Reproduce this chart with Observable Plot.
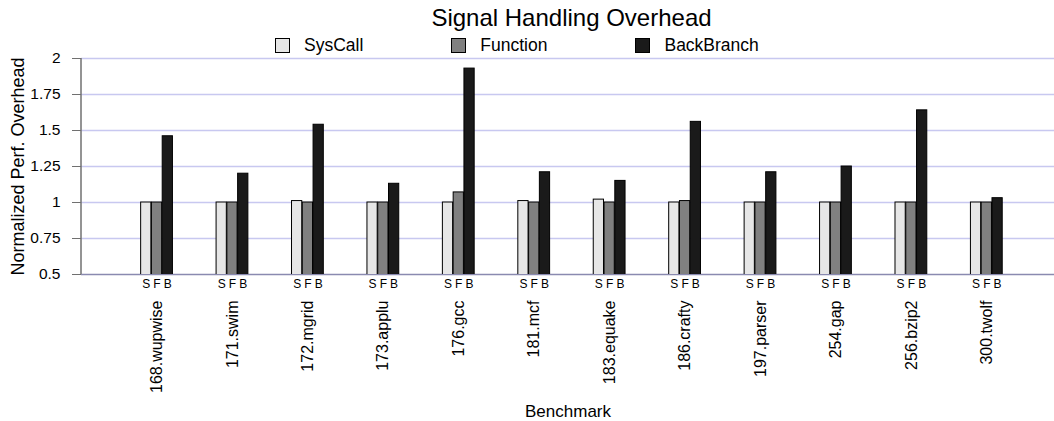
<!DOCTYPE html>
<html>
<head>
<meta charset="utf-8">
<script src="https://cdn.jsdelivr.net/npm/d3@7"></script>
<script src="https://cdn.jsdelivr.net/npm/@observablehq/plot@0.6"></script>
<style>
  html, body { margin: 0; padding: 0; background: #fff; }
  body { font-family: "Liberation Sans", Arial, Helvetica, sans-serif; color: #000; width: 1054px; height: 421px; overflow: hidden; }
  #title { height: 30px; line-height: 30px; padding-top: 3px; font-size: 24px; text-align: center; padding-left: 89px; box-sizing: content-box; width: 965px; }
  #legend { height: 20px; line-height: 20px; padding-top: 2px; font-size: 17.5px; display: flex; padding-left: 275px; }
  .item { display: flex; align-items: center; margin-right: 88px; }
  .sw { width: 13px; height: 13px; border: 1px solid #000; margin-right: 14px; }
  #chart svg { overflow: visible; display: block; }
</style>
</head>
<body>
<div id="title">Signal Handling Overhead</div>
<div id="legend"></div>
<div id="chart"></div>
<script>
const benchmarks = ["168.wupwise","171.swim","172.mgrid","173.applu","176.gcc","181.mcf","183.equake","186.crafty","197.parser","254.gap","256.bzip2","300.twolf"];
const seriesNames = ["SysCall","Function","BackBranch"];
const seriesCodes = ["S","F","B"];
const seriesColors = ["#e6e6e6","#808080","#1a1a1a"];
const sysCall    = [1.00,1.00,1.01,1.00,1.00,1.01,1.02,1.00,1.00,1.00,1.00,1.00];
const functionV  = [1.00,1.00,1.00,1.00,1.07,1.00,1.00,1.01,1.00,1.00,1.00,1.00];
const backBranch = [1.46,1.20,1.54,1.13,1.93,1.21,1.15,1.56,1.21,1.25,1.64,1.03];
const yTicks = [0.5,0.75,1,1.25,1.5,1.75,2];
const yTickLabels = ["0.5","0.75","1","1.25","1.5","1.75","2"];
const xTitle = "Benchmark";
const yTitle = "Normalized Perf. Overhead";

const seriesValues = [sysCall, functionV, backBranch];
const data = [];
benchmarks.forEach((b, i) => {
  seriesNames.forEach((s, j) => {
    data.push({bench: b, series: s, code: seriesCodes[j], key: b + "|" + seriesCodes[j], value: seriesValues[j][i]});
  });
});
const xDomain = benchmarks.flatMap(b => [...seriesCodes.map(c => b + "|" + c), b + "|_1", b + "|_2", b + "|_3", b + "|_4"]);
const labelData = benchmarks.map(b => ({bench: b, key: b + "|F"}));

// legend
const legend = document.getElementById("legend");
seriesNames.forEach((s, j) => {
  const it = document.createElement("div"); it.className = "item";
  const sw = document.createElement("div"); sw.className = "sw"; sw.style.background = seriesColors[j];
  const tx = document.createElement("span"); tx.textContent = s;
  it.appendChild(sw); it.appendChild(tx); legend.appendChild(it);
});

const chart = Plot.plot({
  width: 1054,
  height: 366,
  marginLeft: 81,
  marginRight: 0,
  marginTop: 3,
  marginBottom: 147,
  style: {fontFamily: '"Liberation Sans", Arial, Helvetica, sans-serif', background: "white", overflow: "visible"},
  x: {domain: xDomain, type: "band", paddingInner: 0.05, paddingOuter: 3.17, align: 0.873},
  y: {domain: [0.5, 2]},
  color: {domain: seriesNames, range: seriesColors},
  marks: [
    Plot.ruleY(yTicks.slice(1), {stroke: "#c8c8f0", strokeWidth: 1.5}),
    Plot.ruleY([yTicks[0]], {stroke: "#8a8ab0", strokeWidth: 1.5}),
    Plot.barY(data, {x: "key", y: "value", fill: "series", stroke: "#000", strokeWidth: 1, clip: true}),
    Plot.axisY({ticks: yTicks, tickFormat: (d) => yTickLabels[yTicks.indexOf(d)], tickSize: 9, tickPadding: 12, fontSize: 15.5, stroke: "#707070", label: null}),
    Plot.axisX({tickSize: 0, tickPadding: 5, fontSize: 12, tickFormat: k => { const c = k.split("|")[1]; return seriesCodes.includes(c) ? c : ""; }, label: null}),
    Plot.text(labelData, {x: "key", text: "bench", frameAnchor: "bottom", dy: 26, rotate: -90, textAnchor: "end", lineAnchor: "middle", fontSize: 16}),
    Plot.text([xTitle], {text: d => d, frameAnchor: "bottom", dy: 137, fontSize: 17, textAnchor: "middle", lineAnchor: "middle"}),
    Plot.text([yTitle], {text: d => d, frameAnchor: "left", dx: -63, rotate: -90, fontSize: 18, textAnchor: "middle", lineAnchor: "middle"})
  ]
});
document.getElementById("chart").appendChild(chart);

// y axis line along the left edge of the frame
const ys = chart.scale("y");
d3.select(chart).append("line")
  .attr("x1", 81).attr("x2", 81)
  .attr("y1", ys.apply(2)).attr("y2", ys.apply(0.5))
  .attr("stroke", "#707070").attr("stroke-width", 1.5);
</script>
</body>
</html>
